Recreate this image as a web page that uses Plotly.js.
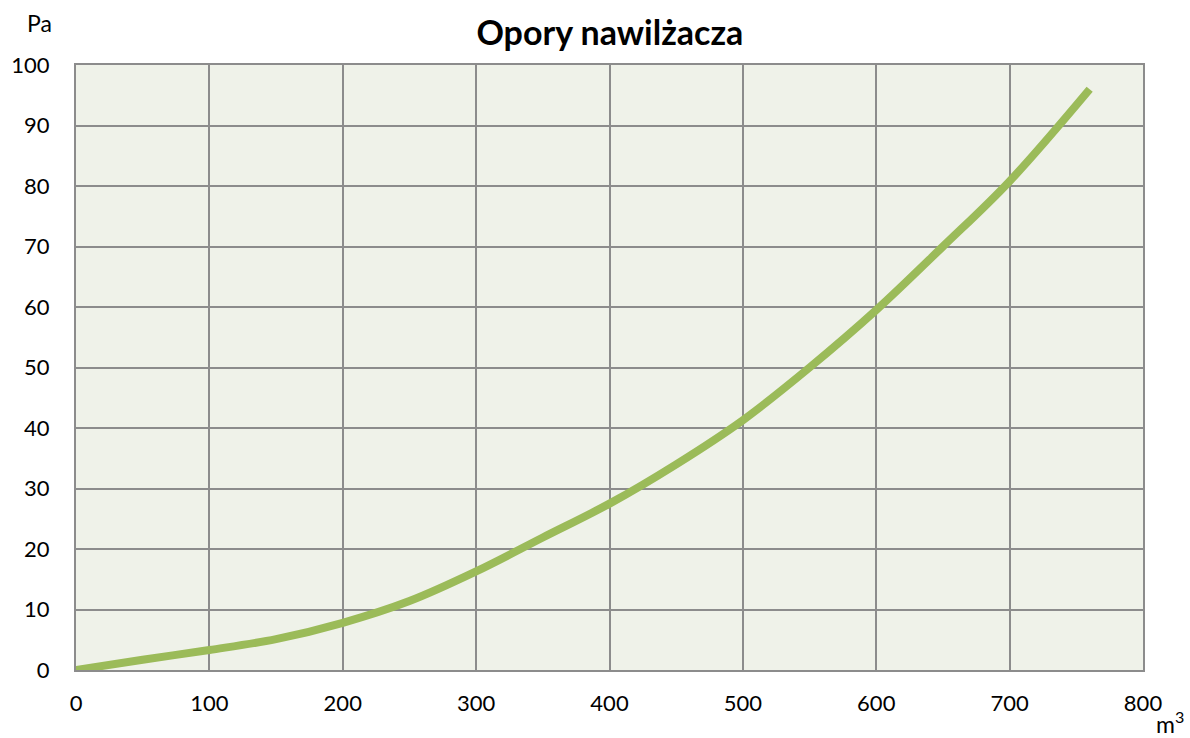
<!DOCTYPE html>
<html>
<head>
<meta charset="utf-8">
<script src="https://cdn.plot.ly/plotly-3.0.1.min.js"></script>
<style>html,body{margin:0;padding:0;background:#fff;}#chart{width:1190px;height:738px;}</style>
</head>
<body>
<div id="chart"></div>
<script>
const flow = [0, 50, 100, 150, 200, 250, 300, 350, 400, 450, 500, 550, 600, 650, 700, 760];
const pressure = [0, 1.7, 3.3, 5.1, 7.8, 11.4, 16.3, 21.9, 27.5, 34.0, 41.3, 50.0, 59.5, 70.0, 80.8, 96.0];
const xTicks = [0, 100, 200, 300, 400, 500, 600, 700, 800];
const yTicks = [0, 10, 20, 30, 40, 50, 60, 70, 80, 90, 100];
const titleText = 'Opory nawilżacza';
const yUnit = 'Pa';
const xUnit = 'm<sup>3</sup>';

const font = 'Lato, Open Sans, Noto Sans, Liberation Sans, sans-serif';
const trace = {
  x: flow, y: pressure, type: 'scatter', mode: 'lines',
  line: {color: '#9bbb59', width: 8, shape: 'spline', smoothing: 1},
  hoverinfo: 'skip'
};
const layout = {
  width: 1190, height: 738,
  margin: {l: 76, r: 47, t: 65, b: 68},
  paper_bgcolor: '#ffffff', plot_bgcolor: '#eff2e9',
  showlegend: false,
  title: {text: '<b>' + titleText + '</b>', x: 0.5125, xanchor: 'center', y: 0.955, yanchor: 'middle',
          font: {family: font, size: 34, color: '#000'}},
  xaxis: {range: [0, 800], tickvals: xTicks, ticktext: xTicks.map(String), showgrid: true,
          gridcolor: '#8c8c8c', gridwidth: 2, zeroline: false, showline: true, linecolor: '#8c8c8c',
          linewidth: 2, mirror: true, ticks: '', ticklabelstandoff: 13,
          tickfont: {family: font, size: 22, color: '#000'}, fixedrange: true},
  yaxis: {range: [0, 100], tickvals: yTicks, ticktext: yTicks.map(String), showgrid: true,
          gridcolor: '#8c8c8c', gridwidth: 2, zeroline: false, showline: true, linecolor: '#8c8c8c',
          linewidth: 2, mirror: true, ticks: '', ticklabelstandoff: 20,
          tickfont: {family: font, size: 22, color: '#000'}, fixedrange: true},
  annotations: [
    {text: yUnit, xref: 'paper', yref: 'paper', x: -0.034, y: 1.0, yshift: 42, xanchor: 'center', yanchor: 'middle',
     showarrow: false, font: {family: font, size: 23, color: '#000'}},
    {text: xUnit, xref: 'paper', yref: 'paper', x: 1.0, y: 0, xshift: 27, yshift: -52, xanchor: 'center', yanchor: 'middle',
     showarrow: false, font: {family: font, size: 23, color: '#000'}}
  ]
};
Plotly.newPlot('chart', [trace], layout, {displayModeBar: false, staticPlot: true});
</script>
</body>
</html>
